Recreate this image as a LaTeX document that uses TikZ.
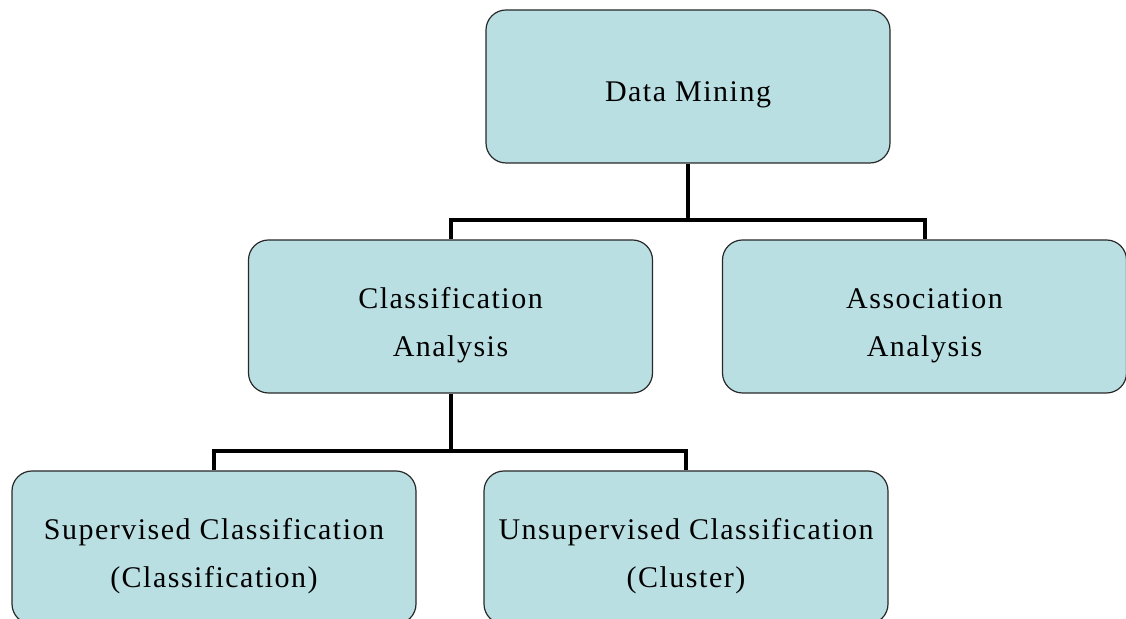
\documentclass[tikz,border=0pt]{standalone}
\usepackage{fontspec}
\setmainfont{Liberation Serif}[LetterSpace=5]
\usepackage{xcolor}
\definecolor{boxfill}{RGB}{185,223,227}
\definecolor{boxline}{RGB}{40,40,40}

\begin{document}
\begin{tikzpicture}[x=0.5pt, y=-0.5pt,
    block/.style={draw=boxline, line width=0.6pt, fill=boxfill, rounded corners=10pt,
        minimum width=202pt, minimum height=76.5pt, inner sep=0pt, align=center,
        font=\fontsize{15}{24}\selectfont, text height=18.5pt},
    twolines/.style={text height=43pt},
    branch/.style={line width=2pt, black}]
    \useasboundingbox (0,0) rectangle (1126,619);
    \node[block] (dm) at (688,86.5) {Data Mining};
    \node[block, twolines] (ca) at (450.5,316.5) {Classification\\Analysis};
    \node[block, twolines] (aa) at (924.5,316.5) {Association\\Analysis};
    \node[block, twolines] (sc) at (214,547.5) {Supervised Classification\\(Classification)};
    \node[block, twolines] (uc) at (686,547.5) {Unsupervised Classification\\(Cluster)};
    \draw[branch] (dm.south) -- (dm.south |- 0,220) -| (ca.north);
    \draw[branch] (dm.south |- 0,220) -| (aa.north);
    \draw[branch] (ca.south) -- (ca.south |- 0,451) -| (sc.north);
    \draw[branch] (ca.south |- 0,451) -| (uc.north);
\end{tikzpicture}
\end{document}
